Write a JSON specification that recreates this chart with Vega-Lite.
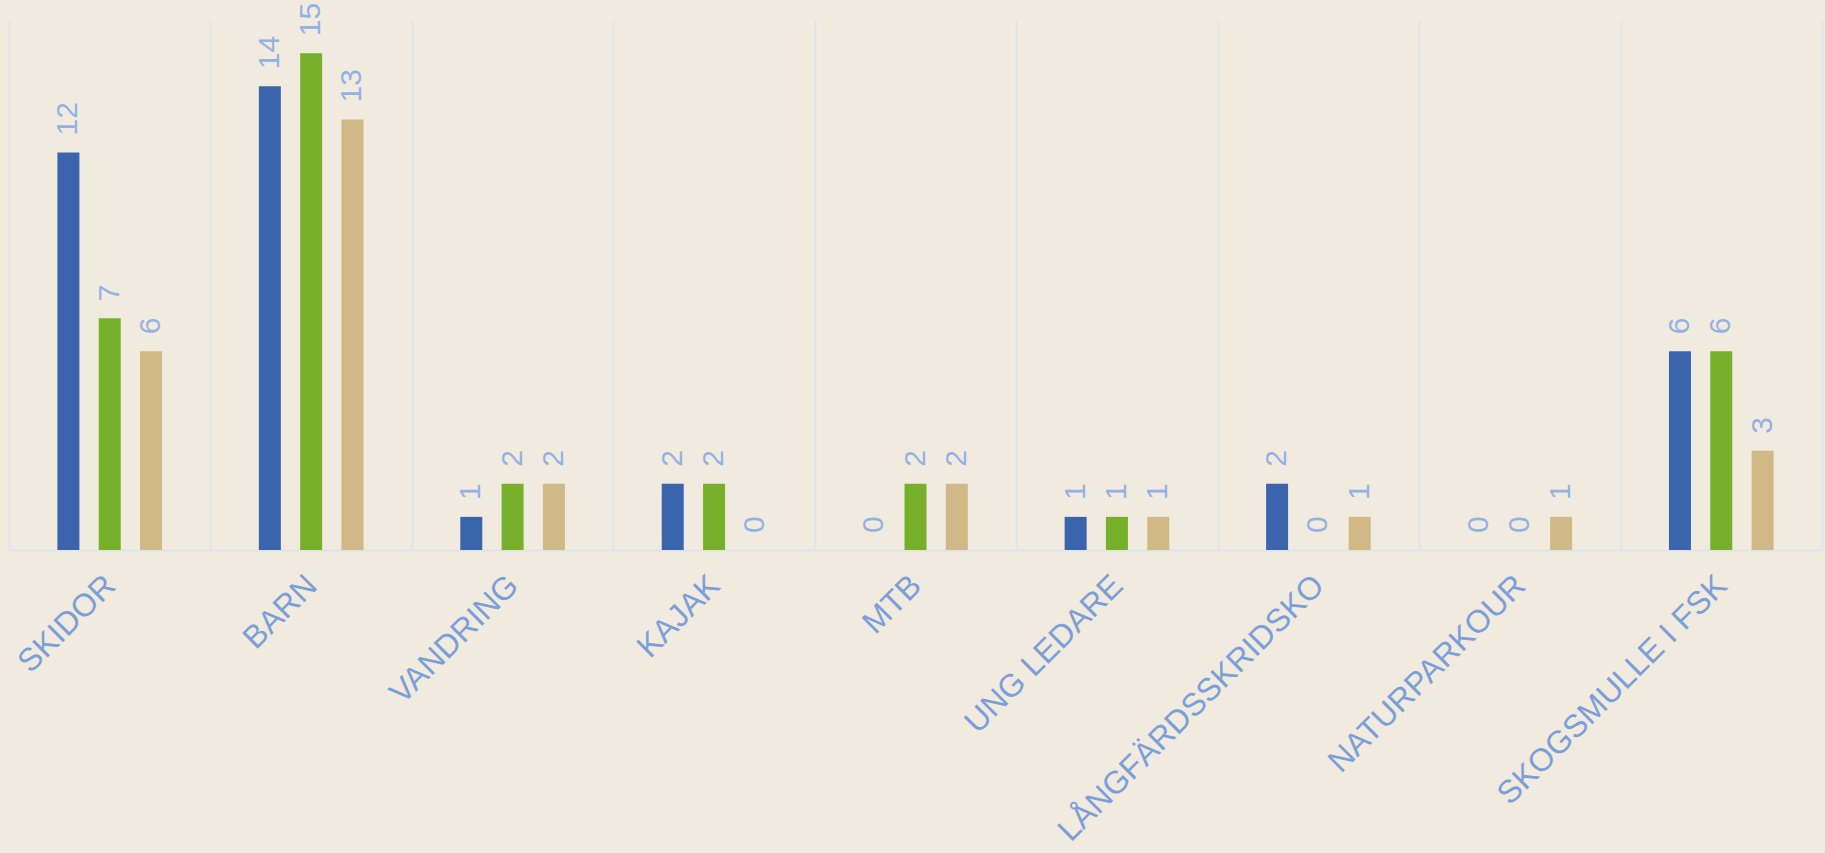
{
  "$schema": "https://vega.github.io/schema/vega-lite/v6.json",
  "width": 1813,
  "height": 530,
  "autosize": {"type": "none"},
  "padding": {"left": 9, "top": 20, "right": 3, "bottom": 303},
  "background": "#f1eadf",
  "config": {"view": {"stroke": null}, "font": "Liberation Sans"},
  "data": {
    "values": [
      {"kategori": "SKIDOR", "serie": "Serie 1", "antal": 12},
      {"kategori": "SKIDOR", "serie": "Serie 2", "antal": 7},
      {"kategori": "SKIDOR", "serie": "Serie 3", "antal": 6},
      {"kategori": "BARN", "serie": "Serie 1", "antal": 14},
      {"kategori": "BARN", "serie": "Serie 2", "antal": 15},
      {"kategori": "BARN", "serie": "Serie 3", "antal": 13},
      {"kategori": "VANDRING", "serie": "Serie 1", "antal": 1},
      {"kategori": "VANDRING", "serie": "Serie 2", "antal": 2},
      {"kategori": "VANDRING", "serie": "Serie 3", "antal": 2},
      {"kategori": "KAJAK", "serie": "Serie 1", "antal": 2},
      {"kategori": "KAJAK", "serie": "Serie 2", "antal": 2},
      {"kategori": "KAJAK", "serie": "Serie 3", "antal": 0},
      {"kategori": "MTB", "serie": "Serie 1", "antal": 0},
      {"kategori": "MTB", "serie": "Serie 2", "antal": 2},
      {"kategori": "MTB", "serie": "Serie 3", "antal": 2},
      {"kategori": "UNG LEDARE", "serie": "Serie 1", "antal": 1},
      {"kategori": "UNG LEDARE", "serie": "Serie 2", "antal": 1},
      {"kategori": "UNG LEDARE", "serie": "Serie 3", "antal": 1},
      {"kategori": "LÅNGFÄRDSSKRIDSKO", "serie": "Serie 1", "antal": 2},
      {"kategori": "LÅNGFÄRDSSKRIDSKO", "serie": "Serie 2", "antal": 0},
      {"kategori": "LÅNGFÄRDSSKRIDSKO", "serie": "Serie 3", "antal": 1},
      {"kategori": "NATURPARKOUR", "serie": "Serie 1", "antal": 0},
      {"kategori": "NATURPARKOUR", "serie": "Serie 2", "antal": 0},
      {"kategori": "NATURPARKOUR", "serie": "Serie 3", "antal": 1},
      {"kategori": "SKOGSMULLE I FSK", "serie": "Serie 1", "antal": 6},
      {"kategori": "SKOGSMULLE I FSK", "serie": "Serie 2", "antal": 6},
      {"kategori": "SKOGSMULLE I FSK", "serie": "Serie 3", "antal": 3}
    ]
  },
  "encoding": {
    "x": {
      "field": "kategori",
      "type": "nominal",
      "sort": null,
      "scale": {"paddingInner": 0, "paddingOuter": 0},
      "axis": {
        "title": null,
        "grid": true,
        "gridColor": "#dde3ec",
        "gridWidth": 2,
        "tickBand": "extent",
        "ticks": false,
        "domain": true,
        "domainColor": "#dde3ec",
        "domainWidth": 2,
        "labelAngle": -45,
        "labelAlign": "right",
        "labelBaseline": "middle",
        "labelPadding": 30,
        "labelFontSize": 32,
        "labelLimit": 0,
        "labelOverlap": false,
        "labelColor": "#7a9fd9",
        "labelFont": "Liberation Sans"
      }
    },
    "xOffset": {
      "field": "serie",
      "type": "nominal",
      "scale": {"paddingInner": 0.124, "paddingOuter": 1}
    },
    "y": {
      "field": "antal",
      "type": "quantitative",
      "scale": {"domain": [0, 16], "nice": false},
      "axis": null
    }
  },
  "layer": [
    {
      "mark": {"type": "bar", "width": 22},
      "encoding": {
        "color": {
          "field": "serie",
          "type": "nominal",
          "scale": {"range": ["#3a65ad", "#77b02a", "#d1b987"]},
          "legend": null
        }
      }
    },
    {
      "mark": {
        "type": "text",
        "angle": 270,
        "align": "left",
        "baseline": "middle",
        "dx": 17,
        "fontSize": 30,
        "color": "#93b2e3",
        "font": "Liberation Sans"
      },
      "encoding": {"text": {"field": "antal", "type": "quantitative"}}
    }
  ]
}
